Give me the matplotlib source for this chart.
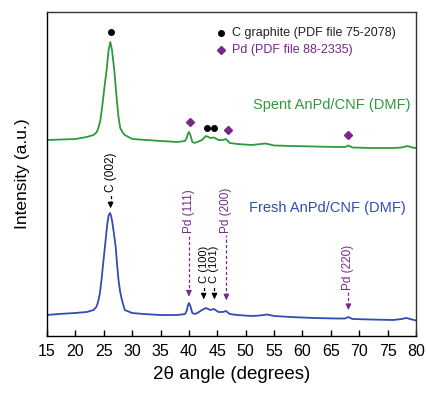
import matplotlib
matplotlib.use('Agg')
import matplotlib.pyplot as plt

plt.rcParams['font.family'] = ['Liberation Sans', 'DejaVu Sans']

# 2theta positions and intensities (a.u.)
fresh_x = [15, 17, 20, 22, 23.2, 23.7, 24.0, 24.3, 24.6, 24.9, 25.2, 25.6, 25.85, 26.1, 26.3, 26.5, 26.8,
           27.1, 27.35, 27.6, 27.9, 28.2, 28.7, 30,
           32, 35, 38, 39.3, 39.6, 39.8, 40.0, 40.25, 40.6, 41.0, 41.5, 42.3, 43.0, 43.8, 44.4, 45.2,
           46.0, 46.5, 47.2, 48.5, 51, 52.5, 53.8, 55, 58, 62, 66, 67.5, 68.1, 68.8, 72, 76, 77.5, 78.3,
           79.3, 80]
fresh_y = [6.48, 6.79, 7.10, 7.41, 8.02, 9.0, 10.49, 13.0, 17.28, 22.5, 27.47, 34.26, 37.2, 37.96, 37.0,
           35.19, 31.5, 27.47, 22.0, 17.28, 13.5, 11.11, 8.02, 7.10, 6.79, 6.48, 6.48, 6.79, 7.72, 9.26,
           10.19, 9.26, 7.10, 6.79, 7.10, 8.02, 8.64, 8.02, 8.33, 7.41, 7.41, 7.72, 6.79, 6.48, 6.17, 6.33,
           6.64, 6.17, 5.86, 5.56, 5.40, 5.40, 5.86, 5.25, 5.09, 4.94, 5.25, 5.56, 5.09, 4.78]

spent_x = [15, 20, 22, 23.2, 23.7, 24.0, 24.4, 24.8, 25.1, 25.5, 25.85, 26.15, 26.45, 26.85, 27.1, 27.3,
           27.6, 27.9, 28.3, 28.7, 30, 35, 38,
           39.3, 39.6, 39.8, 40.0, 40.25, 40.6, 41.0, 41.5, 42.3, 43.0, 43.8, 44.4, 45.2, 46.0, 46.5, 47.2,
           48.5, 51, 53.5, 55, 58, 62, 66, 67.5, 68.1, 68.8, 72, 76, 77.5, 78.5, 79.3, 80]
spent_y = [60.49, 60.80, 61.42, 62.04, 62.8, 63.89, 66.5, 71.91, 76.5, 82.10, 88.27, 90.74, 88.27, 82.10,
           77.0, 72.84, 67.5, 64.20, 62.9, 62.04, 60.80, 60.19, 59.88, 60.19, 61.11, 62.35, 62.96, 62.04,
           59.88, 59.57, 59.88, 60.49, 61.73, 61.11, 61.27, 60.49, 60.49, 60.80, 59.57, 59.26, 58.95, 59.41,
           58.80, 58.64, 58.49, 58.33, 58.33, 58.80, 58.18, 58.02, 58.02, 58.18, 58.64, 58.18, 58.02]

# reference markers above the spent pattern
graphite_x = [26.2, 43.1, 44.4]
graphite_y = [93.8, 64.3, 64.3]
pd_x = [40.2, 46.8, 68.1]
pd_y = [66.1, 63.6, 62.0]

# peak labels for the fresh pattern: text, position, text bottom, arrow tip, colour
peak_labels = ['C (002)', 'Pd (111)', 'C (100)', 'C (101)', 'Pd (200)', 'Pd (220)']
peak_x = [26.2, 40.0, 42.6, 44.5, 46.6, 68.1]
label_y = [44.4, 31.8, 16.4, 16.4, 31.8, 14.2]
tip_y = [38.6, 11.4, 10.5, 10.5, 10.2, 7.2]
label_size = [8.5, 8.5, 8, 8, 8.5, 8.5]
is_pd = [False, True, False, False, True, True]

green = '#2e9a3c'
blue = '#2f4db4'
purple = '#78288a'

fig = plt.figure(figsize=(4.26, 3.93), dpi=100)
ax = fig.add_axes([47 / 426, 57 / 393, 369 / 426, 324 / 393])

ax.plot(spent_x, spent_y, color=green, lw=1.3)
ax.plot(fresh_x, fresh_y, color=blue, lw=1.3)

ax.plot(graphite_x, graphite_y, 'o', color='black', ms=4, ls='none')
ax.plot(pd_x, pd_y, 'D', color=purple, ms=4.5, ls='none')

for lab, x, ly, ty, fs, pd in zip(peak_labels, peak_x, label_y, tip_y, label_size, is_pd):
    c = purple if pd else 'black'
    ax.text(x, ly, lab, rotation=90, ha='center', va='bottom', fontsize=fs, color=c)
    ax.vlines(x, ty + 2, ly - 0.6, colors=c, linestyles=(0, (2.5, 1.8)), lw=0.9)
    ax.annotate('', xy=(x, ty), xytext=(x, ty + 2.5),
                arrowprops=dict(arrowstyle='-|>', color=c, lw=0.9, mutation_scale=8))

# legend drawn by hand like the original
ax.plot([0.472], [0.935], 'o', color='black', ms=4, transform=ax.transAxes)
ax.text(0.500, 0.935, 'C graphite (PDF file 75-2078)', transform=ax.transAxes,
        va='center', ha='left', fontsize=9, color='#222222')
ax.plot([0.472], [0.883], 'D', color=purple, ms=4, transform=ax.transAxes)
ax.text(0.500, 0.883, 'Pd (PDF file 88-2335)', transform=ax.transAxes,
        va='center', ha='left', fontsize=9, color=purple)

ax.text(0.984, 0.713, 'Spent AnPd/CNF (DMF)', transform=ax.transAxes,
        ha='right', va='center', fontsize=10.5, color=green)
ax.text(0.973, 0.395, 'Fresh AnPd/CNF (DMF)', transform=ax.transAxes,
        ha='right', va='center', fontsize=10.5, color=blue)

ax.set_xlim(15, 80)
ax.set_ylim(0, 100)
ax.set_xticks(range(15, 81, 5))
ax.set_yticks([])
ax.tick_params(axis='x', direction='in', length=4, width=1, labelsize=11.5, pad=6)
for s in ax.spines.values():
    s.set_color('#333333')
    s.set_linewidth(1)
ax.spines['left'].set_color('black')
ax.spines['bottom'].set_color('black')

ax.set_xlabel('2θ angle (degrees)', fontsize=13.5, labelpad=5)
ax.set_ylabel('Intensity (a.u.)', fontsize=12.5, labelpad=12)

fig.savefig('out.png', dpi=100)
